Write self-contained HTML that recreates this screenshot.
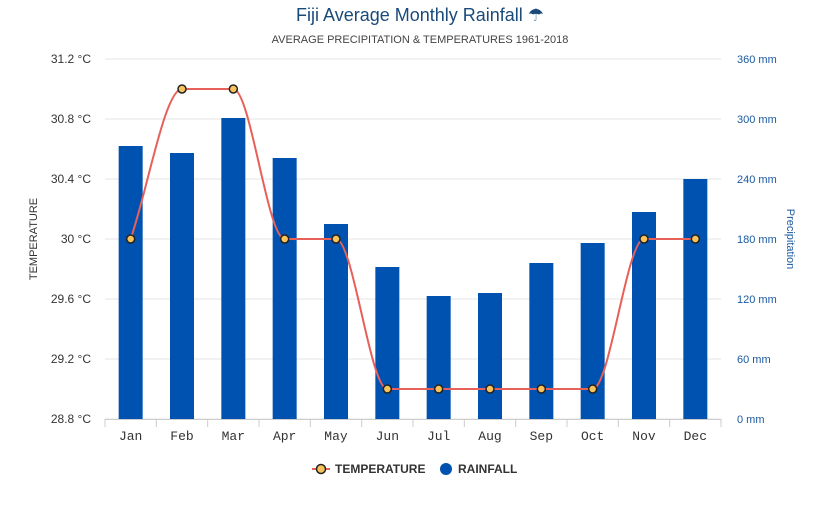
<!DOCTYPE html>
<html><head><meta charset="utf-8"><style>
body{margin:0;background:#fff;width:840px;height:503px;overflow:hidden;font-family:"Liberation Sans",sans-serif}
</style></head><body>
<svg id="c" width="840" height="503" xmlns="http://www.w3.org/2000/svg">
<text x="420" y="21" text-anchor="middle" font-size="18" fill="#1a4a7a">Fiji Average Monthly Rainfall ☂</text>
<text x="420" y="43" text-anchor="middle" font-size="11" fill="#444">AVERAGE PRECIPITATION &amp; TEMPERATURES 1961-2018</text>
<text transform="translate(37,239) rotate(-90)" text-anchor="middle" font-size="11" fill="#333">TEMPERATURE</text>
<text transform="translate(787,239) rotate(90)" text-anchor="middle" font-size="11" fill="#1a5aa0">Precipitation</text>
<g id="grid"></g><g id="bars"></g><g id="line"></g><g id="axes"></g>
<g>
<g>
<line x1="312" y1="469" x2="330" y2="469" stroke="#e8605a" stroke-width="2"/>
<circle cx="321" cy="469" r="4.5" fill="#f9c35c" stroke="#222" stroke-width="1.5"/>
<text x="335" y="473" font-size="12" font-weight="bold" fill="#333">TEMPERATURE</text></g>
<g>
<circle cx="446" cy="469" r="6" fill="#0052b1"/>
<text x="458" y="473" font-size="12" font-weight="bold" fill="#333">RAINFALL</text></g>
</g>
</svg>
<script>
const months=["Jan","Feb","Mar","Apr","May","Jun","Jul","Aug","Sep","Oct","Nov","Dec"];
const rainfall=[273,266,301,261,195,152,123,126,156,176,207,240];
const temperature=[30,31,31,30,30,29,29,29,29,29,30,30];
const tempTicks=[28.8,29.2,29.6,30,30.4,30.8,31.2];
const tempTickLabels=["28.8 °C","29.2 °C","29.6 °C","30 °C","30.4 °C","30.8 °C","31.2 °C"];
const rainTicks=[0,60,120,180,240,300,360];
const NS="http://www.w3.org/2000/svg";
const L=105,R=721,T=59,B=419,bw=(R-L)/months.length;
const xC=i=>L+bw*(i+0.5);
const yT=v=>B-(v-28.8)/(31.2-28.8)*(B-T);
const yR=v=>B-v/360*(B-T);
function mk(p,tag,a){const e=document.createElementNS(NS,tag);for(const k in a)e.setAttribute(k,a[k]);document.getElementById(p).appendChild(e);return e;}
tempTicks.forEach((t,i)=>{
 const g=mk('grid','line',{x1:L,x2:R,y1:yT(t),y2:yT(t),stroke:'#e6e6e6'});
 
 
 const tx=mk('axes','text',{x:91,y:yT(t)+4,'text-anchor':'end','font-size':12,fill:'#333'});tx.textContent=tempTickLabels[i];
 
 
});
rainTicks.forEach(r=>{
 const tx=mk('axes','text',{x:737,y:yR(r)+4,'font-size':11,fill:'#1a5aa0'});tx.textContent=r+' mm';
 
 
});
mk('axes','line',{x1:L,x2:R,y1:B+0.5,y2:B+0.5,stroke:'#ccc'});
months.forEach((m,i)=>{
 mk('axes','line',{x1:L+bw*i,x2:L+bw*i,y1:B,y2:B+8,stroke:'#ccc'});
 const tx=mk('axes','text',{x:xC(i),y:440,'text-anchor':'middle','font-size':13,fill:'#333','font-family':'Liberation Mono, monospace'});tx.textContent=m;
 
 
 const b=mk('bars','rect',{x:xC(i)-12,y:yR(rainfall[i]),width:24,height:B-yR(rainfall[i]),fill:'#0052b1'});
 
 
});
mk('axes','line',{x1:R,x2:R,y1:B,y2:B+8,stroke:'#ccc'});
// monotone cubic
const xs=months.map((m,i)=>xC(i)),ys=temperature.map(yT),n=xs.length;
const d=[],mt=[];for(let i=0;i<n-1;i++)d.push((ys[i+1]-ys[i])/(xs[i+1]-xs[i]));
for(let i=0;i<n;i++){if(i==0)mt.push(d[0]);else if(i==n-1)mt.push(d[n-2]);else mt.push(d[i-1]*d[i]<=0?0:(d[i-1]+d[i])/2);}
for(let i=0;i<n-1;i++){if(d[i]==0){mt[i]=0;mt[i+1]=0;continue;}const a=mt[i]/d[i],b=mt[i+1]/d[i],s=a*a+b*b;if(s>9){const t=3/Math.sqrt(s);mt[i]=t*a*d[i];mt[i+1]=t*b*d[i];}}
let p='M'+xs[0]+','+ys[0];
for(let i=0;i<n-1;i++){const h=(xs[i+1]-xs[i])/3;p+=`C${xs[i]+h},${ys[i]+mt[i]*h} ${xs[i+1]-h},${ys[i+1]-mt[i+1]*h} ${xs[i+1]},${ys[i+1]}`;}
const ln=mk('line','path',{d:p,fill:'none',stroke:'#e8605a','stroke-width':2});


temperature.forEach((t,i)=>{
 const c=mk('line','circle',{cx:xC(i),cy:yT(t),r:4,fill:'#f9c35c',stroke:'#222','stroke-width':1.5});
 
 
});
</script>
</body></html>
